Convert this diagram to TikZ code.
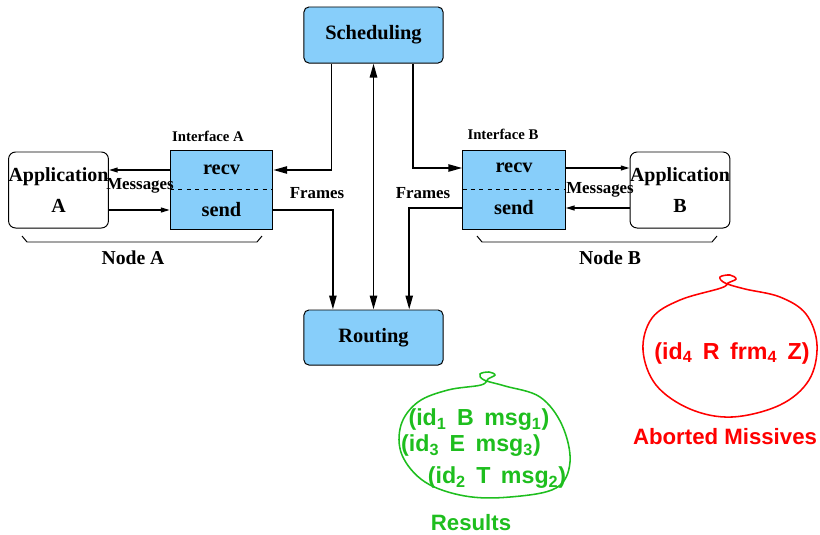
\documentclass[tikz,border=0pt]{standalone}
\usepackage{fontspec}
\setmainfont{Liberation Serif}
\setsansfont{Liberation Sans}
\usepackage{tikz}
\usetikzlibrary{arrows.meta, positioning, calc}
\definecolor{boxblue}{HTML}{87CEFA}
\definecolor{resgreen}{HTML}{1EBE1E}
\definecolor{abortred}{HTML}{FF0000}
\newcommand{\gap}{\hspace{0.45em}}

\begin{document}
\begin{tikzpicture}[x=0.025cm, y=-0.025cm,
  blk/.style={draw, line width=0.7pt, fill=boxblue, rounded corners=3.5pt, minimum width=3.475cm, minimum height=1.4cm, font=\fontsize{14.5}{17}\selectfont\bfseries},
  iface/.style={draw, line width=0.7pt, fill=boxblue, minimum width=2.56cm, minimum height=1.975cm},
  app/.style={draw, line width=0.7pt, fill=white, rounded corners=5pt, minimum width=2.46cm, minimum height=1.9cm, inner sep=0pt, align=center, font=\fontsize{14.2}{17}\selectfont\bfseries},
  op/.style={font=\fontsize{14.5}{17}\selectfont\bfseries},
  lbl/.style={font=\fontsize{12}{14}\selectfont\bfseries},
  flow/.style={line width=1.4pt, -{Triangle[length=0.35cm, width=0.18cm]}},
  msg/.style={line width=1.1pt, -{Triangle[length=0.22cm, width=0.12cm]}},
  tuple/.style={font=\fontsize{16.5}{19}\selectfont\sffamily\bfseries},
  caption/.style={inner sep=0pt, font=\fontsize{15.8}{18}\selectfont\sffamily\bfseries},
]
\useasboundingbox (0,0) rectangle (820,534);
% central boxes
\node[blk] (sched) at (373.5,35) {Scheduling};
\node[blk, minimum height=1.375cm] (route) at (373.5,337.5) {Routing};
%
% node A
\node[iface] (ifA) at (221.5,189.5) {};
\node[font=\fontsize{10.5}{12}\selectfont\bfseries] (ifAlbl) at (208,136) {Interface A};
\node[op] (recvA) at (221.5,170) {recv};
\node[op] (sendA) at (221.5,210) {send};
\draw[dashed, line width=0.6pt] (ifA.west |- 0,189) -- (ifA.east |- 0,189);
\node[app] (appA) at (58.5,190) {Application\\[5pt]A};
\draw[msg] (recvA -| ifA.west) -- (recvA -| appA.east);
\draw[msg] (sendA -| appA.east) -- (sendA -| ifA.west);
\node[lbl] (msgA) at (140,186) {Messages};
\draw[line width=0.7pt] (22,236) -- (27,242) -- (257,242) -- (262,236);
\node[font=\fontsize{14}{17}\selectfont\bfseries] (nodeA) at (133,258) {Node A};
%
% node B
\node[iface] (ifB) at (514,189.5) {};
\node[font=\fontsize{10.5}{12}\selectfont\bfseries] (ifBlbl) at (503,134) {Interface B};
\node[op] (recvB) at (514,168) {recv};
\node[op] (sendB) at (514,208) {send};
\draw[dashed, line width=0.6pt] (ifB.west |- 0,189) -- (ifB.east |- 0,189);
\node[app] (appB) at (680,190) {Application\\[5pt]B};
\draw[msg] (recvB -| ifB.east) -- (recvB -| appB.west);
\draw[msg] (sendB -| appB.west) -- (sendB -| ifB.east);
\node[lbl] (msgB) at (600,190) {Messages};
\draw[line width=0.7pt] (477,236) -- (482,242) -- (712,242) -- (717,236);
\node[font=\fontsize{14}{17}\selectfont\bfseries] (nodeB) at (610,258) {Node B};
%
% frames
\draw[flow] ($(sched.south west)!0.2!(sched.south east)$) |- (recvA -| ifA.east);
\draw[flow] ($(sched.south west)!0.78!(sched.south east)$) |- (recvB -| ifB.west);
\draw[flow] (sendA -| ifA.east) -| ($(route.north west)!0.21!(route.north east)$);
\draw[flow] (sendB -| ifB.west) -| ($(route.north west)!0.755!(route.north east)$);
\draw[line width=1.4pt, {Triangle[length=0.35cm, width=0.18cm]}-{Triangle[length=0.35cm, width=0.18cm]}] (sched) -- (route);
\node[lbl] (frA) at (317,193) {Frames};
\node[lbl] (frB) at (423,193) {Frames};
%
% results
\draw[resgreen, line width=1.1pt] plot[smooth cycle, tension=0.6] coordinates {
  (481,385) (488,379) (495,375) (489,372) (480,374) (484,380) (505,386)
  (540,397) (562,425) (570,462) (556,488) (510,497) (465,496) (425,482)
  (402,455) (401,425) (418,402) (448,390)};
\node[tuple, text=resgreen] (res1) at (479,420) {(id\textsubscript{1}\gap B\gap msg\textsubscript{1})};
\node[tuple, text=resgreen] (res3) at (471,446) {(id\textsubscript{3}\gap E\gap msg\textsubscript{3})};
\node[tuple, text=resgreen] (res2) at (497,478) {(id\textsubscript{2}\gap T\gap msg\textsubscript{2})};
\node[caption, text=resgreen] (reslbl) at (471,523) {Results};
%
% aborted
\draw[abortred, line width=1.1pt] plot[smooth cycle, tension=0.6] coordinates {
  (721,288) (728,283) (736,279) (730,275) (720,277) (725,283) (745,289)
  (780,297) (806,314) (817,345) (809,380) (780,405) (732,417) (690,409)
  (656,385) (643,350) (652,318) (680,300)};
\node[tuple, text=abortred] (abt) at (732,353) {(id\textsubscript{4}\gap R\gap frm\textsubscript{4}\gap Z)};
\node[caption, text=abortred] (abtlbl) at (725,437) {Aborted Missives};
\end{tikzpicture}
\end{document}
